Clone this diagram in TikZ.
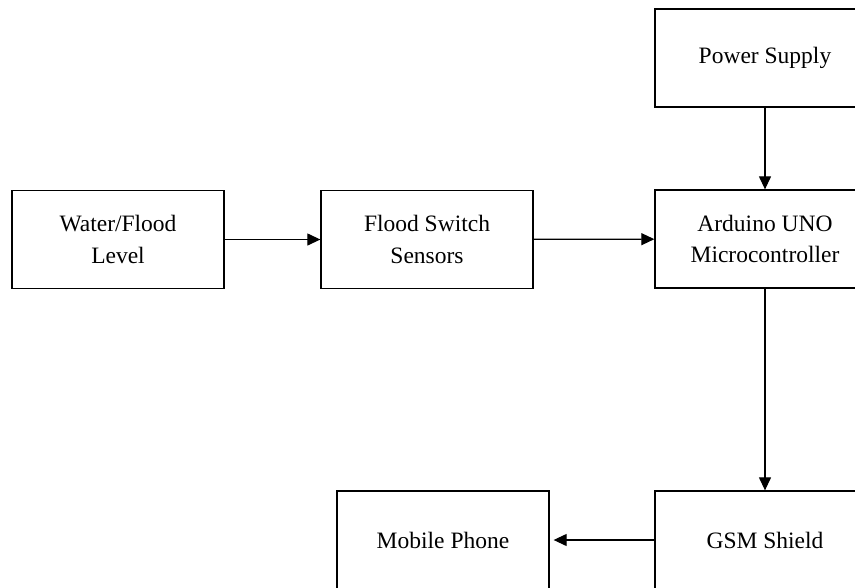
\documentclass[tikz,border=0pt]{standalone}
\usepackage{fontspec}
\setmainfont{Liberation Serif}
\usetikzlibrary{arrows.meta}
\begin{document}
\begin{tikzpicture}[x=1pt,y=-1pt,
  blk/.style={draw,line width=1.3pt,rectangle,minimum width=212pt,minimum height=98pt,
    inner sep=0pt,align=center,font=\fontsize{23.5}{31.5}\selectfont},
  wideblk/.style={blk,minimum width=220pt},
  conn/.style={line width=1.2pt,-{Triangle[length=13pt,width=12pt]}}]
\useasboundingbox (0,0) rectangle (855,587);
\clip (0,0) rectangle (855,587);
\node[blk] (water) at (118,239.5) {Water/Flood\\Level};
\node[blk] (flood) at (427,239.5) {Flood Switch\\Sensors};
\node[wideblk] (ard) at (765,239) {Arduino UNO\\Microcontroller};
\node[wideblk] (power) at (765,58) {Power Supply};
\node[wideblk] (gsm) at (765,540) {GSM Shield};
\node[blk] (mobile) at (443,540) {Mobile Phone};
\draw[conn] (water) -- (flood);
\draw[conn] (flood) -- (ard);
\draw[conn] (power) -- (ard);
\draw[conn] (ard) -- (gsm);
\draw[conn,shorten >=4pt] (gsm) -- (mobile);
\end{tikzpicture}
\end{document}
